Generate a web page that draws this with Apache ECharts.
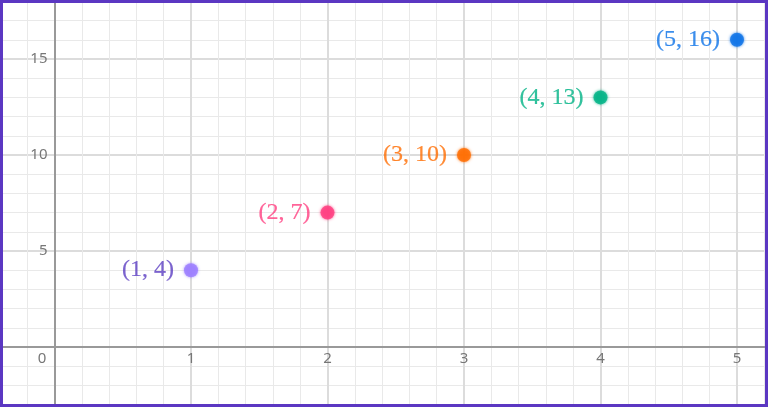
<!DOCTYPE html>
<html>
<head>
<meta charset="utf-8">
<script src="https://cdn.jsdelivr.net/npm/echarts@6/dist/echarts.min.js"></script>
<style>
  html, body { margin: 0; padding: 0; background: #fff; }
  #main { width: 768px; height: 407px; }
</style>
</head>
<body>
<div id="main"></div>
<script>
// points (x, y) and their labels
var xValues = [1, 2, 3, 4, 5];
var yValues = [4, 7, 10, 13, 16];
var pointLabels = ['(1, 4)', '(2, 7)', '(3, 10)', '(4, 13)', '(5, 16)'];
var dotColors = ['#9b7dff', '#ff3d7f', '#ff6d00', '#00b386', '#0b72e7'];
var textColors = ['#5a3cc2', '#ff3d7f', '#ff6d00', '#00b386', '#0b72e7'];
var xTickLabels = [0, 1, 2, 3, 4, 5];
var yTickLabels = [5, 10, 15];

var chart = echarts.init(document.getElementById('main'));

var data = xValues.map(function (x, i) {
    return {
        value: [x, yValues[i]],
        itemStyle: { color: dotColors[i], shadowBlur: 3, shadowColor: dotColors[i] },
        label: { color: textColors[i], textBorderColor: textColors[i], textBorderWidth: 0.2, formatter: pointLabels[i] }
    };
});

var tickText = { color: '#777', fontSize: 15, fontFamily: 'Noto Sans' };

// the grid runs past the canvas so that ticks are whole numbers;
// the axes are pulled back onto the zero lines with offset
chart.setOption({
    animation: false,
    grid: { left: -82, top: -37, width: 955.5, height: 480, containLabel: false, outerBoundsMode: 'none' },
    xAxis: {
        type: 'value', min: -1, max: 6, interval: 1,
        position: 'bottom', offset: -96,
        axisLine: { onZero: false, lineStyle: { color: '#999', width: 2 } },
        axisTick: { show: false },
        minorTick: { show: false, splitNumber: 5 },
        splitLine: { show: true, lineStyle: { color: '#dcdcdc', width: 2 } },
        minorSplitLine: { show: true, lineStyle: { color: '#e9e9e9', width: 1 } },
        axisLabel: Object.assign({
            margin: 4,
            formatter: function (v) {
                if (xTickLabels.indexOf(v) < 0) return '';
                return v === 0 ? '{z|0}' : String(v);
            },
            rich: { z: { padding: [0, 25, 0, 0], color: '#777', fontSize: 15, fontFamily: 'Noto Sans' } }
        }, tickText)
    },
    yAxis: {
        type: 'value', min: -5, max: 20, interval: 5,
        position: 'left', offset: -136.5,
        axisLine: { onZero: false, lineStyle: { color: '#999', width: 2 } },
        axisTick: { show: false },
        minorTick: { show: false, splitNumber: 5 },
        splitLine: { show: true, lineStyle: { color: '#dcdcdc', width: 2 } },
        minorSplitLine: { show: true, lineStyle: { color: '#e9e9e9', width: 1 } },
        axisLabel: Object.assign({
            margin: 7,
            formatter: function (v) {
                return yTickLabels.indexOf(v) < 0 ? '' : String(v);
            }
        }, tickText)
    },
    series: [{
        type: 'scatter',
        symbolSize: 14,
        data: data,
        label: {
            show: true, position: 'left', distance: 10,
            fontFamily: 'Liberation Serif', fontSize: 24
        },
        z: 5
    }],
    graphic: [{
        type: 'rect',
        shape: { x: 1.5, y: 1.5, width: 765, height: 404 },
        style: { fill: null, stroke: '#5b37c2', lineWidth: 3 },
        z: 100
    }]
});
</script>
</body>
</html>
